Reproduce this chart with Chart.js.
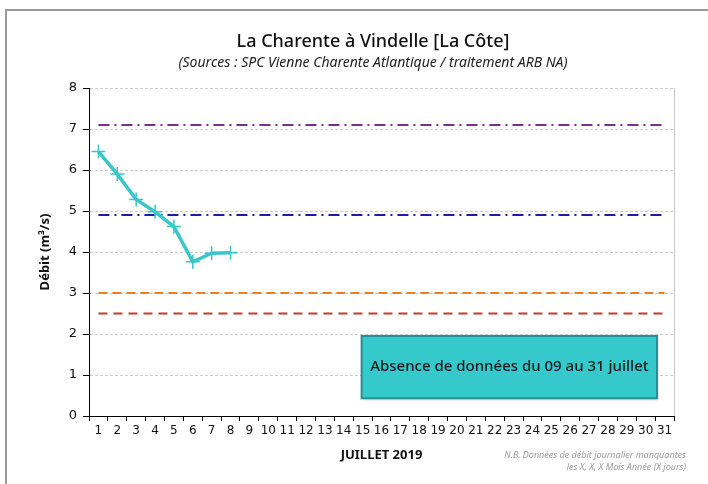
<!DOCTYPE html>
<html>
<head>
<meta charset="utf-8">
<script src="https://cdn.jsdelivr.net/npm/chart.js@4"></script>
<style>
    body { margin: 0; background: #fff; }
    #wrap { position: relative; width: 708px; height: 484px; overflow: hidden; }
    #frame { position: absolute; left: 5px; top: 9px; width: 720px; height: 500px; border: 2px solid #9a9a9a; }
    canvas { position: absolute; left: 0; top: 0; }
</style>
</head>
<body>
<div id="wrap">
    <div id="frame"></div>
    <canvas id="chart" width="708" height="484"></canvas>
</div>
<script>
// Data
const days = ['1','2','3','4','5','6','7','8','9','10','11','12','13','14','15','16',
    '17','18','19','20','21','22','23','24','25','26','27','28','29','30','31'];
const debit = [6.45, 5.9, 5.28, 4.98, 4.62, 3.76, 3.97, 3.98];
const seuilViolet = 7.1;
const seuilBleu = 4.9;
const seuilOrange = 3.0;
const seuilRouge = 2.5;
const yTicks = [0, 1, 2, 3, 4, 5, 6, 7, 8];

const titleText = 'La Charente à Vindelle [La Côte]';
const subtitleText = '(Sources : SPC Vienne Charente Atlantique / traitement ARB NA)';
const boxText = 'Absence de données du 09 au 31 juillet';
const noteLines = ['N.B. Données de débit journalier manquantes', 'les X, X, X Mois Année (X jours)'];

function constant(v) {
    return days.map(() => v);
}

// Extra drawing: titles, frame of plot area, info box, note
const decorPlugin = {
    id: 'decor',
    beforeDatasetsDraw(chart) {
        const ctx = chart.ctx;
        const a = chart.chartArea;
        ctx.save();
        ctx.strokeStyle = '#c8c8c8';
        ctx.lineWidth = 1;
        ctx.beginPath();
        ctx.moveTo(a.right + 0.5, a.top);
        ctx.lineTo(a.right + 0.5, a.bottom);
        ctx.stroke();
        ctx.restore();
    },
    afterDraw(chart) {
        const ctx = chart.ctx;
        const a = chart.chartArea;
        ctx.save();
        ctx.fillStyle = '#111';
        ctx.textAlign = 'center';
        ctx.textBaseline = 'middle';
        ctx.font = '500 18px "Noto Sans"';
        ctx.fillText(titleText, 373, 42);
        ctx.font = 'italic 14px "Noto Sans"';
        ctx.fillStyle = '#222';
        ctx.fillText(subtitleText, 373, 63);

        // info box
        const w = a.right - a.left, h = a.bottom - a.top;
        const bx = a.left + w * 0.466, by = a.top + h * 0.756;
        const bw = w * 0.505, bh = h * 0.19;
        ctx.shadowColor = 'rgba(0,0,0,0.25)';
        ctx.shadowOffsetX = 1;
        ctx.shadowOffsetY = 2;
        ctx.shadowBlur = 3;
        ctx.fillStyle = '#35C9CC';
        ctx.fillRect(bx, by, bw, bh);
        ctx.shadowColor = 'transparent';
        ctx.strokeStyle = '#2B8C93';
        ctx.lineWidth = 2;
        ctx.strokeRect(bx, by, bw, bh);
        ctx.fillStyle = '#1a1a1a';
        ctx.font = '500 15px "Noto Sans"';
        ctx.fillText(boxText, bx + bw / 2, by + bh / 2);

        // note
        ctx.fillStyle = '#9a9a9a';
        ctx.font = 'italic 9px "Noto Sans"';
        ctx.textAlign = 'right';
        ctx.fillText(noteLines[0], 686, 455);
        ctx.fillText(noteLines[1], 686, 467);
        ctx.restore();
    }
};

function refLine(label, value, color, dash) {
    return {
        label: label,
        data: constant(value),
        borderColor: color,
        borderWidth: 2,
        borderDash: dash,
        pointRadius: 0,
        fill: false,
        order: 2
    };
}

const ctx = document.getElementById('chart').getContext('2d');
new Chart(ctx, {
    type: 'line',
    data: {
        labels: days,
        datasets: [
            refLine('Seuil 1', seuilViolet, '#7A2E8E', [11, 5, 2, 5]),
            refLine('Seuil 2', seuilBleu, '#1C1CA8', [11, 5, 2, 5]),
            refLine('Seuil 3', seuilOrange, '#F07D1E', [9, 5]),
            refLine('Seuil 4', seuilRouge, '#C8382E', [9, 6]),
            {
                label: 'Débit',
                data: debit,
                borderColor: '#38C6C9',
                borderWidth: 3.5,
                pointStyle: 'cross',
                pointRadius: 7,
                pointBorderWidth: 1.5,
                pointBorderColor: '#38C6C9',
                tension: 0,
                spanGaps: false,
                order: 1
            }
        ]
    },
    options: {
        responsive: false,
        animation: false,
        layout: { padding: { top: 88, right: 34, left: 0, bottom: 0 } },
        plugins: {
            legend: { display: false },
            tooltip: { enabled: false }
        },
        scales: {
            x: {
                type: 'category',
                offset: true,
                afterFit: (s) => { s.height = 68; },
                grid: { display: true, drawOnChartArea: false, tickLength: 5, color: '#000', offset: true },
                border: { color: '#000', width: 1 },
                ticks: {
                    color: '#111',
                    font: { family: 'DejaVu Sans', size: 12 },
                    padding: 3,
                    maxRotation: 0,
                    autoSkip: false
                },
                title: {
                    display: true,
                    text: 'JUILLET 2019',
                    color: '#111',
                    font: { family: 'Noto Sans', size: 13, weight: 'bold' },
                    padding: { top: 0, bottom: 21 }
                }
            },
            y: {
                min: 0,
                max: 8,
                afterFit: (s) => { s.width = 89; },
                afterBuildTicks: (s) => { s.ticks = yTicks.map(v => ({ value: v })); },
                grid: { color: '#cccccc', tickLength: 6, tickColor: '#000', tickBorderDash: [] },
                border: { color: '#000', width: 1, dash: [3, 2] },
                ticks: {
                    color: '#111',
                    font: { family: 'DejaVu Sans', size: 13 },
                    padding: 6
                },
                title: {
                    display: true,
                    text: 'Débit (m³/s)',
                    color: '#111',
                    font: { family: 'Noto Sans', size: 13, weight: 'bold' },
                    padding: { top: 37, bottom: 0 }
                }
            }
        }
    },
    plugins: [decorPlugin]
});
</script>
</body>
</html>
